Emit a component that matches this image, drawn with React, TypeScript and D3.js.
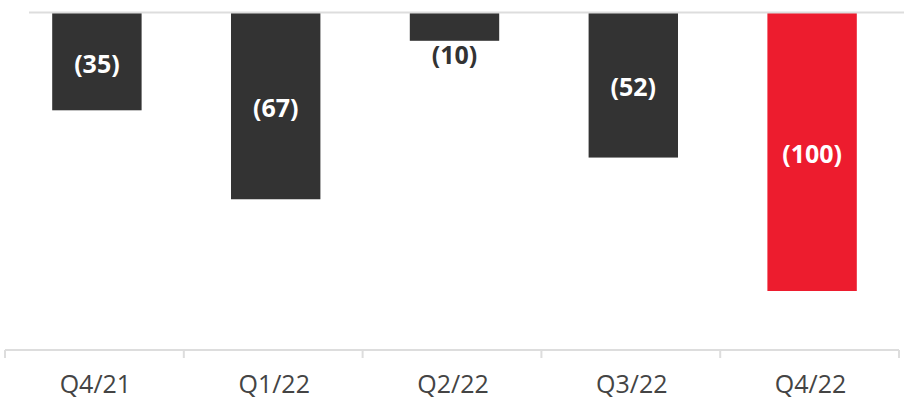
import React from "react";
import * as d3 from "d3";

const categories = ["Q4/21", "Q1/22", "Q2/22", "Q3/22", "Q4/22"];
const values = [-35, -67, -10, -52, -100];
const labels = ["(35)", "(67)", "(10)", "(52)", "(100)"];
const highlight = [false, false, false, false, true];

const W = 904;
const H = 399;

export default function App() {
  const x = d3
    .scaleBand<string>()
    .domain(categories)
    .range([5, 899])
    .paddingInner(0.5)
    .paddingOuter(0.25);
  const y = d3.scaleLinear().domain([0, -100]).range([13, 291]);
  const barShift = 2.5;
  const fontFamily = "'Open Sans', 'Noto Sans', sans-serif";
  const ticks = [...categories.map((c) => (x(c) as number) - x.step() * 0.25), 899];

  return (
    <svg
      width={W}
      height={H}
      style={{ position: "absolute", left: 0, top: 0, display: "block" }}
    >
      <rect width={W} height={H} fill="#fff" />
      {categories.map((c, i) => {
        const x0 = (x(c) as number) + barShift;
        const y0 = y(0);
        const y1 = y(values[i]);
        const inside = y1 - y0 > 40;
        return (
          <g key={c}>
            <rect
              x={x0}
              y={y0}
              width={x.bandwidth()}
              height={y1 - y0}
              fill={highlight[i] ? "#ED1C2E" : "#333333"}
            />
            <text
              x={x0 + x.bandwidth() / 2}
              y={inside ? (y0 + y1) / 2 + 1 : y1 + 13}
              textAnchor="middle"
              dominantBaseline="central"
              fontFamily={fontFamily}
              fontWeight={700}
              fontSize={25}
              fill={inside ? "#ffffff" : "#333333"}
            >
              {labels[i]}
            </text>
          </g>
        );
      })}
      <line x1={29} x2={904} y1={y(0) - 0.5} y2={y(0) - 0.5} stroke="#dddddd" strokeWidth={2} />
      <line x1={5} x2={899} y1={350} y2={350} stroke="#dddddd" strokeWidth={2} />
      {ticks.map((t, i) => (
        <line key={i} x1={t} x2={t} y1={350} y2={358} stroke="#dddddd" strokeWidth={2} />
      ))}
      {categories.map((c) => (
        <text
          key={c}
          x={(x(c) as number) + x.bandwidth() / 2 + 1}
          y={393}
          textAnchor="middle"
          fontFamily={fontFamily}
          fontSize={25}
          fill="#444444"
        >
          {c}
        </text>
      ))}
    </svg>
  );
}
